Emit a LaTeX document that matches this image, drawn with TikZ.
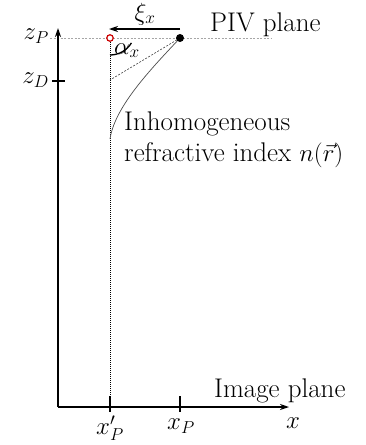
\documentclass[tikz,border=0pt]{standalone}
\usetikzlibrary{arrows.meta}
\begin{document}
\begin{tikzpicture}[x=1pt,y=-1pt,
  lbl/.style={font=\fontsize{27}{31}\selectfont, inner sep=0pt},
  axis/.style={line width=1.4pt},
  tick/.style={line width=1.4pt},
  guide/.style={gray!70, line width=0.6pt, dash pattern=on 2pt off 1.5pt},
  vdot/.style={black, line width=0.9pt, dash pattern=on 1pt off 1pt},
  ray/.style={black!70, line width=0.7pt}]
\useasboundingbox (0,0) rectangle (366,445);
% coordinates
\coordinate (O) at (58,407);
\coordinate (ytop) at (58,28);
\coordinate (xend) at (289,407);
\coordinate (P) at (180,38);
\coordinate (Pp) at (110,38);
\coordinate (D) at (110,80);
\coordinate (C) at (110,139);
\coordinate (B) at (110,407);
\coordinate (gl) at (50,38);
\coordinate (gr) at (272,38);
\coordinate (zDl) at (52,81);
\coordinate (zDr) at (65,81);
\coordinate (t1a) at (110,396);
\coordinate (t1b) at (110,412);
\coordinate (t2a) at (180,396);
\coordinate (t2b) at (180,412);
\coordinate (aS) at (180,29);
\coordinate (aE) at (109,29);
% guide line
\draw[guide] (gl) -- (gr);
% axes
\draw[axis,-{Stealth[length=9pt,width=6pt]}] (O) -- (ytop);
\draw[axis,-{Stealth[length=9pt,width=6pt]}] (O) -- (xend);
\draw[tick] (zDl) -- (zDr);
\draw[tick] (t1a) -- (t1b);
\draw[tick] (t2a) -- (t2b);
% vertical dotted line
\draw[vdot] (Pp) -- (B);
% straight dotted ray
\draw[guide, black!75] (P) -- (D);
% curved ray
\draw[ray] (P) .. controls (155,65) and (115,105) .. (C);
% angle arc
\draw[line width=1.3pt] (110,55) arc[start angle=90, end angle=31, radius=25];
% xi arrow
\draw[line width=1.4pt,-{Stealth[length=9pt,width=6pt]}] (aS) -- (aE);
% points
\node[circle, fill=black, inner sep=0pt, minimum size=8pt] (pt) at (P) {};
\node[circle, draw=red!80!black, line width=1.2pt, fill=white, inner sep=0pt, minimum size=6.5pt] (pp) at (Pp) {};
% labels
\node[lbl, anchor=east] (lzp) at (49,36) {$z_P$};
\node[lbl, anchor=east] (lzd) at (49,80) {$z_D$};
\node[lbl, anchor=north] (lxpp) at (110,416) {$x'_P$};
\node[lbl, anchor=north] (lxp) at (181,419) {$x_P$};
\node[lbl] (lx) at (293,423) {$x$};
\node[lbl, anchor=base west] (limg) at (214,397) {Image plane};
\node[lbl, anchor=base west] (lpiv) at (210,31) {PIV plane};
\node[lbl] (lxi) at (145,14) {$\xi_x$};
\node[lbl, anchor=base west] (lal) at (114,54) {$\alpha_x$};
\node[lbl, anchor=north west, align=left] (lin) at (124,112) {Inhomogeneous\\refractive index $n(\vec r)$};
\end{tikzpicture}
\end{document}
